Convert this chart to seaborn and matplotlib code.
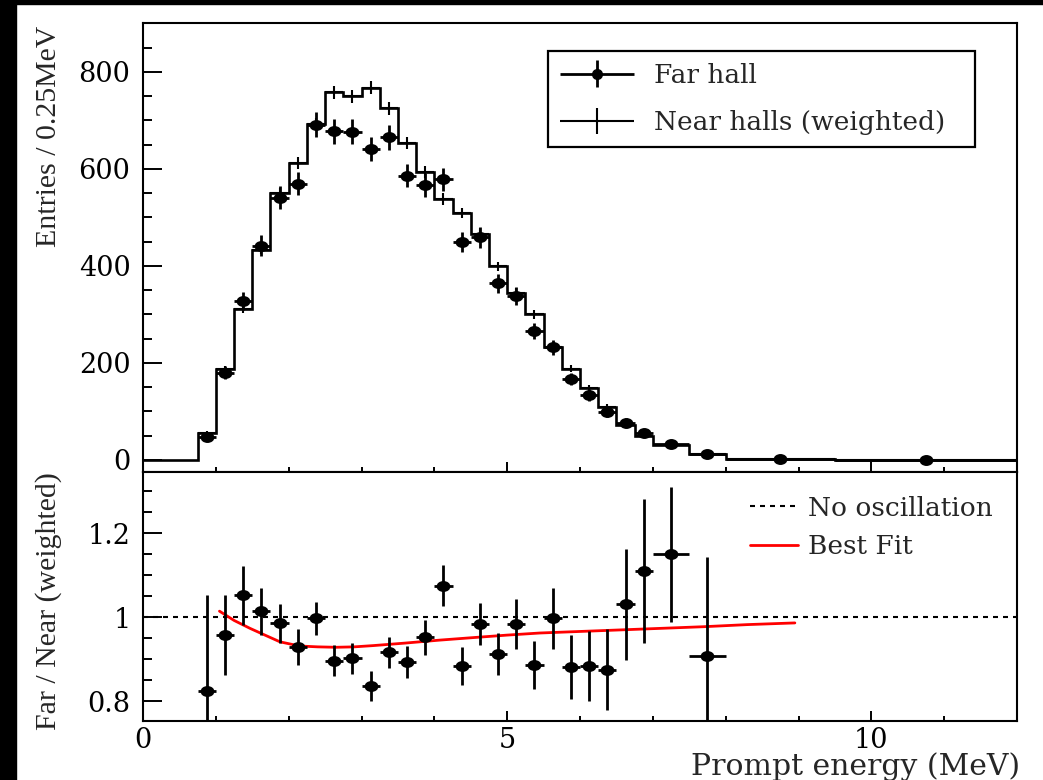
import numpy as np
import matplotlib
matplotlib.use("Agg")
import matplotlib.pyplot as plt
from matplotlib.ticker import MultipleLocator, FuncFormatter
from matplotlib.lines import Line2D
from matplotlib.patches import Rectangle
from matplotlib.path import Path
from matplotlib.markers import MarkerStyle
from matplotlib.transforms import Affine2D
from matplotlib.container import ErrorbarContainer
from matplotlib.legend_handler import HandlerErrorbar
import seaborn as sns

# Prompt-energy binning (MeV): 0.25 MeV bins up to 7 MeV, wider bins above
bin_edges = [0.75, 1.0, 1.25, 1.5, 1.75, 2.0, 2.25, 2.5, 2.75, 3.0, 3.25, 3.5,
             3.75, 4.0, 4.25, 4.5, 4.75, 5.0, 5.25, 5.5, 5.75, 6.0, 6.25, 6.5,
             6.75, 7.0, 7.5, 8.0, 9.5, 12.0]

# Far-hall spectrum (entries / 0.25 MeV) and statistical errors
far_entries = [47, 180, 328, 442, 541, 570, 691, 678, 677, 641, 665, 586, 567,
               579, 450, 459, 364, 338, 266, 232, 167, 134, 98, 77, 55, 34, 12,
               2, 1]
far_errors = [7, 13, 18, 21, 23, 24, 26, 26, 26, 25, 26, 24, 24, 24, 21, 21,
              19, 18, 16, 15, 13, 12, 10, 9, 7, 4, 2.5, 1, 0.5]

# Weighted near-hall prediction (entries / 0.25 MeV) and errors
near_entries = [56, 188, 311, 434, 550, 613, 693, 758, 750, 768, 725, 654, 594,
                538, 509, 467, 399, 345, 300, 232, 188, 149, 110, 72, 50, 31,
                12, 3, 1]
near_errors = [3.5, 6.5, 8.5, 10, 11, 12, 13, 13.5, 13.5, 13.5, 13, 12.5, 12,
               11.5, 11, 10.5, 10, 9, 8.5, 7.5, 7, 6, 5, 4, 3.5, 2, 1, 0.5, 0.3]

# Far / Near ratio for bins up to 8 MeV
ratio_values = [0.825, 0.957, 1.052, 1.014, 0.985, 0.929, 0.997, 0.896, 0.902,
                0.836, 0.916, 0.894, 0.952, 1.075, 0.884, 0.983, 0.912, 0.983,
                0.886, 0.997, 0.882, 0.884, 0.875, 1.030, 1.110, 1.149, 0.908]
ratio_errors = [0.228, 0.095, 0.070, 0.056, 0.046, 0.042, 0.040, 0.037, 0.037,
                0.035, 0.037, 0.038, 0.042, 0.048, 0.045, 0.050, 0.051, 0.059,
                0.058, 0.073, 0.076, 0.083, 0.097, 0.133, 0.171, 0.160, 0.234]

# Best-fit oscillation curve
fit_energy = [1.05, 1.25, 1.47, 1.7, 1.88, 2.15, 2.4, 2.65, 2.9, 3.16, 3.6,
              4.07, 4.53, 5.0, 5.45, 5.9, 6.35, 6.8, 7.25, 7.7, 8.3, 8.95]
fit_ratio = [1.014, 0.992, 0.973, 0.955, 0.941, 0.931, 0.929, 0.928, 0.929,
             0.932, 0.938, 0.945, 0.951, 0.957, 0.962, 0.965, 0.968, 0.971,
             0.974, 0.977, 0.982, 0.986]

sns.set_theme(style="ticks")
plt.rcParams["font.family"] = ["DejaVu Serif"]
plt.rcParams["axes.linewidth"] = 1.5
plt.rcParams["axes.edgecolor"] = "black"

edges = np.array(bin_edges)
centers = 0.5 * (edges[:-1] + edges[1:])
half_w = 0.5 * (edges[1:] - edges[:-1])
n_ratio = len(ratio_values)

# slightly wide elliptical dot marker
ellipse = MarkerStyle(Path.unit_circle().transformed(Affine2D().scale(1.27, 1.0)))

fig = plt.figure(figsize=(10.43, 7.8), dpi=100)
fig.patch.set_facecolor("white")
ax1 = fig.add_axes([0.1371, 0.3949, 0.8380, 0.5756])
ax2 = fig.add_axes([0.1371, 0.0756, 0.8380, 0.3192])

# ---- upper panel: spectra ----
ax1.stairs([0] + near_entries, [0.0] + bin_edges, color="black", lw=1.9,
           baseline=None, zorder=2)
near_cont = ax1.errorbar(centers, near_entries, xerr=half_w, yerr=near_errors,
                         fmt="none", ecolor="black", elinewidth=1.5, zorder=2)
far_cont = ax1.errorbar(centers, far_entries, xerr=half_w, yerr=far_errors,
                        fmt="none", ecolor="black", elinewidth=2.0, zorder=3)
sns.scatterplot(x=centers, y=far_entries, ax=ax1, color="black", s=100,
                marker=ellipse, linewidth=0, zorder=4, legend=False)

ax1.set_xlim(0, 12)
ax1.set_ylim(-24.7, 901)
ax1.yaxis.set_major_locator(MultipleLocator(200))
ax1.yaxis.set_minor_locator(MultipleLocator(50))
ax1.set_ylabel("Entries / 0.25MeV", fontfamily="Liberation Serif",
               fontsize=21.5, va="center")
ax1.yaxis.set_label_coords(-0.108, 0.748)

far_marker = Line2D([], [], marker="o", ls="none", color="black", ms=7)
ax1.legend(handles=[(far_cont, far_marker), near_cont],
           labels=["Far hall", "Near halls (weighted)"],
           handler_map={ErrorbarContainer: HandlerErrorbar(xerr_size=1.4,
                                                           yerr_size=0.5)},
           loc="upper left", bbox_to_anchor=(0.4634, 0.3, 0.4886, 0.6376),
           mode="expand", borderaxespad=0, fontsize=19, frameon=True,
           fancybox=False, framealpha=1, edgecolor="black", borderpad=0.45,
           handlelength=2.8, handletextpad=0.75, labelspacing=0.85)
ax1.get_legend().get_frame().set_linewidth(1.6)

# ---- lower panel: ratio ----
ax2.axhline(1.0, color="black", lw=1.5, ls=(0, (2.4, 2.4)), zorder=1,
            label="No oscillation")
sns.lineplot(x=fit_energy, y=fit_ratio, ax=ax2, color="red", lw=2.0,
             zorder=2, label="Best Fit", legend=False)
ax2.errorbar(centers[:n_ratio], ratio_values, xerr=half_w[:n_ratio],
             yerr=ratio_errors, fmt="none", ecolor="black", elinewidth=2.0,
             zorder=3)
sns.scatterplot(x=centers[:n_ratio], y=ratio_values, ax=ax2, color="black",
                s=100, marker=ellipse, linewidth=0, zorder=4, legend=False)

ax2.set_xlim(0, 12)
ax2.set_ylim(0.7524, 1.3452)
ax2.yaxis.set_major_locator(MultipleLocator(0.2))
ax2.yaxis.set_minor_locator(MultipleLocator(0.05))
ax2.yaxis.set_major_formatter(FuncFormatter(lambda v, p: f"{v:g}"))
ax2.set_ylabel("Far / Near (weighted)", fontfamily="Liberation Serif",
               fontsize=21.5, va="center")
ax2.yaxis.set_label_coords(-0.108, 0.482)
ax2.set_xlabel("Prompt energy (MeV)", fontsize=21.5, ha="right", va="bottom")
ax2.xaxis.set_label_coords(1.003, -0.240)

line_handles = ax2.get_lines()
ax2.legend(handles=[line_handles[0], line_handles[1]],
           labels=["No oscillation", "Best Fit"], loc="upper left",
           bbox_to_anchor=(0.6945, 0.905), frameon=False, borderpad=0,
           borderaxespad=0, fontsize=19, handlelength=1.8,
           handletextpad=0.38, labelspacing=0.5)

for ax in (ax1, ax2):
    ax.xaxis.set_major_locator(MultipleLocator(5))
    ax.xaxis.set_minor_locator(MultipleLocator(1))
    ax.tick_params(axis="both", which="both", direction="in", top=False,
                   right=False, width=1.4, color="black", labelsize=19.5,
                   labelcolor="black")
    ax.tick_params(axis="x", which="major", length=7.2, pad=4)
    ax.tick_params(axis="x", which="minor", length=3.6)
    ax.tick_params(axis="y", which="major", length=13.7, pad=9)
    ax.tick_params(axis="y", which="minor", length=6.5)
    ax.set_facecolor("white")
    for sp in ax.spines.values():
        sp.set_linewidth(1.5)
        sp.set_color("black")
ax1.tick_params(labelbottom=False)

# dark border strips along the left and top edges
fig.add_artist(Rectangle((0, 0), 16 / 1043, 1, transform=fig.transFigure,
                         color="black", zorder=10))
fig.add_artist(Rectangle((0, 1 - 3.5 / 780), 1, 3.5 / 780,
                         transform=fig.transFigure, color="black", zorder=10))

fig.savefig("out.png", dpi=100, facecolor="white")
